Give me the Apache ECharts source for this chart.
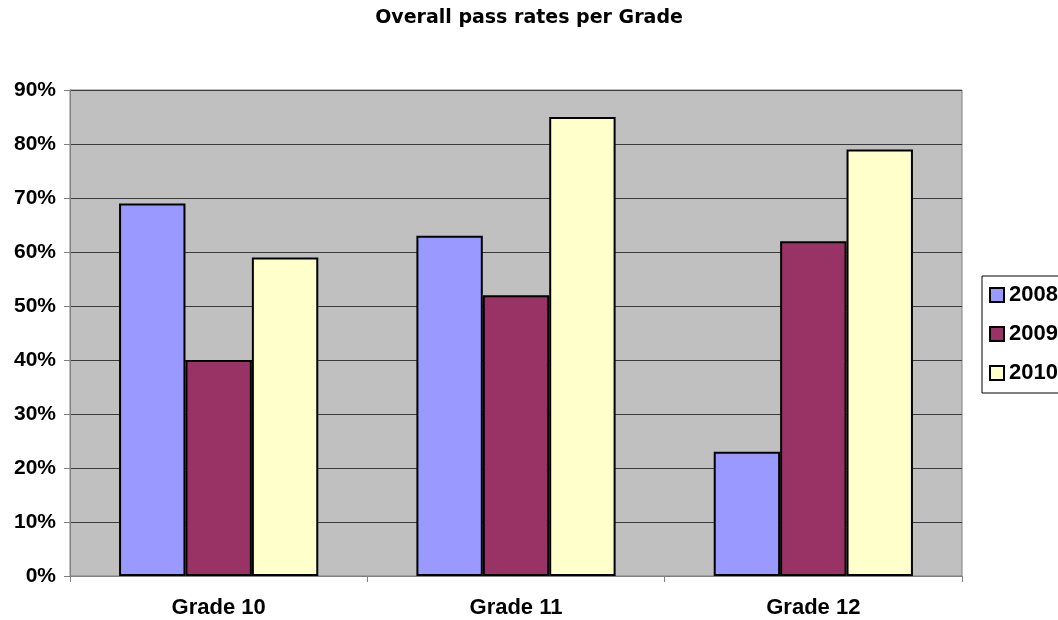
<!DOCTYPE html>
<html>
<head>
<meta charset="utf-8">
<script src="https://cdn.jsdelivr.net/npm/echarts@6/dist/echarts.min.js"></script>
<style>
html,body{margin:0;padding:0;background:#fff;}
#chart{width:1058px;height:620px;}
</style>
</head>
<body>
<div id="chart"></div>
<script>
const categories = ['Grade 10', 'Grade 11', 'Grade 12'];
const seriesNames = ['2008', '2009', '2010'];
const values2008 = [69, 63, 23];
const values2009 = [40, 52, 62];
const values2010 = [59, 85, 79];
const yTicks = [0, 10, 20, 30, 40, 50, 60, 70, 80, 90];
const colors = ['#9999FF', '#993366', '#FFFFCC'];

const allValues = [values2008, values2009, values2010];
const chart = echarts.init(document.getElementById('chart'), null, {renderer: 'canvas'});
const labelFont = 'Arial, "Liberation Sans", sans-serif';

chart.setOption({
  backgroundColor: '#ffffff',
  animation: false,
  title: {
    text: 'Overall pass rates per Grade',
    left: 'center',
    top: 4,
    textStyle: {fontFamily: '"DejaVu Sans", sans-serif', fontWeight: 'bold', fontSize: 19, color: '#000'}
  },
  legend: {
    orient: 'vertical',
    left: 982,
    top: 276,
    padding: [8, 12, 9, 7],
    itemGap: 17,
    itemWidth: 14,
    itemHeight: 14,
    itemTextGap: 6,
    icon: 'rect',
    backgroundColor: '#fff',
    borderColor: '#000',
    borderWidth: 1,
    borderRadius: 0,
    data: seriesNames,
    textStyle: {fontFamily: labelFont, fontWeight: 'bold', fontSize: 22, color: '#000'}
  },
  grid: {
    left: 70, right: 96, top: 90, bottom: 44,
    show: true,
    backgroundColor: '#C0C0C0',
    borderColor: '#808080',
    borderWidth: 1
  },
  xAxis: {
    type: 'category',
    data: categories,
    axisLine: {lineStyle: {color: '#808080', width: 1}},
    axisTick: {show: true, length: 6, inside: false, lineStyle: {color: '#808080'}},
    axisLabel: {margin: 21, fontFamily: labelFont, fontWeight: 'bold', fontSize: 22, color: '#000'}
  },
  yAxis: {
    type: 'value',
    min: yTicks[0],
    max: yTicks[yTicks.length - 1],
    interval: yTicks[1] - yTicks[0],
    axisLine: {show: true, lineStyle: {color: '#808080', width: 1}},
    axisTick: {show: true, length: 6, lineStyle: {color: '#808080'}},
    splitLine: {show: true, lineStyle: {color: '#3a3a3a', width: 1}},
    axisLabel: {margin: 14, formatter: '{value}%', fontFamily: labelFont, fontWeight: 'bold', fontSize: 21, color: '#000'}
  },
  series: seriesNames.map((name, i) => ({
    name: name,
    type: 'bar',
    data: allValues[i],
    barGap: '0%',
    barCategoryGap: '33%',
    itemStyle: {color: colors[i], borderColor: '#000', borderWidth: 2}
  }))
});
</script>
</body>
</html>
